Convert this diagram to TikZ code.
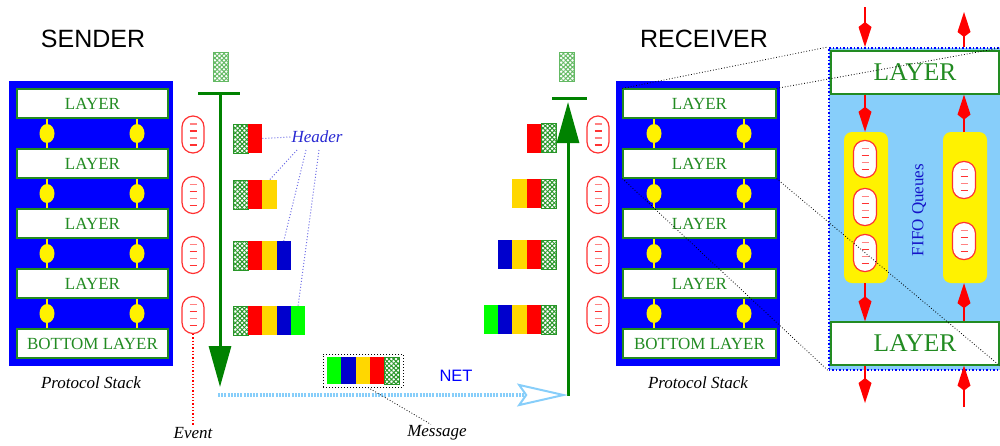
\documentclass[tikz,border=0pt]{standalone}
\usepackage{fontspec}
\setmainfont{Liberation Serif}
\newfontfamily\hv{Liberation Sans}
\usetikzlibrary{arrows.meta,patterns,patterns.meta,calc,shapes.geometric}
\definecolor{stackblue}{RGB}{0,0,255}
\definecolor{lgreen}{RGB}{34,139,34}
\definecolor{agreen}{RGB}{0,130,0}
\definecolor{hgreen}{RGB}{40,150,40}
\definecolor{hlgreen}{RGB}{100,185,100}
\definecolor{pred}{RGB}{255,0,0}
\definecolor{pyel}{RGB}{255,215,0}
\definecolor{pblue}{RGB}{0,0,205}
\definecolor{pgrn}{RGB}{0,255,0}
\definecolor{netblue}{RGB}{135,206,250}
\definecolor{hdrblue}{RGB}{40,40,210}
\definecolor{hdrline}{RGB}{110,110,230}
\definecolor{capred}{RGB}{255,50,50}
\definecolor{cappink}{RGB}{255,130,130}
\definecolor{fifoblue}{RGB}{20,20,200}
\tikzset{
  layerbox/.style={draw=lgreen, line width=1.2pt, fill=white, minimum height=29pt, inner sep=0pt,
    font=\fontsize{17}{17}\selectfont, text=lgreen},
  biglayer/.style={layerbox, minimum width=168pt, minimum height=43pt, font=\fontsize{25.5}{25.5}\selectfont},
  knob/.style={ellipse, fill=yellow, minimum width=15pt, minimum height=19pt, inner sep=0pt},
  knobline/.style={yellow, line width=1.5pt},
  capsule/.style={draw=capred, line width=1.2pt, fill=white, rounded corners=11pt, minimum height=37pt, inner sep=0pt},
  blk/.style={minimum width=14.3pt, minimum height=29pt, inner sep=0pt, outer sep=0pt},
  hatchbox/.style={blk, minimum width=15pt, draw=hgreen, line width=1pt,
    pattern={Lines[angle=45, distance=3.2pt, line width=1pt]}, pattern color=hgreen,
    postaction={pattern={Lines[angle=-45, distance=3.2pt, line width=1pt]}, pattern color=hgreen}},
  tophatch/.style={blk, minimum width=15pt, draw=hlgreen, line width=1pt,
    pattern={Lines[angle=45, distance=3.2pt, line width=1pt]}, pattern color=hlgreen,
    postaction={pattern={Lines[angle=-45, distance=3.2pt, line width=1pt]}, pattern color=hlgreen}},
  lbl/.style={font=\fontsize{17}{17}\selectfont\itshape, inner sep=1pt},
  title/.style={font=\hv\fontsize{25}{25}\selectfont},
  garrow/.style={agreen, line width=3pt, -{Triangle[length=41pt,width=22pt]}},
  gbar/.style={agreen, line width=3pt},
  netline/.style={netblue, line width=4.5pt, dash pattern=on 2pt off 1.2pt,
    -{Stealth[open, length=51pt, width=23pt, inset=8pt, line width=2pt]}},
  rarrow/.style={red, line width=2pt, -{Kite[length=25pt, width=13pt, inset=5pt]}},
  hline/.style={hdrline, dotted, line width=1pt},
  zoomline/.style={black, dotted, line width=0.8pt},
}
\newcommand\capsulenode[4]{%
  \node[capsule, minimum width=#4pt] (#1) at (#2,#3) {};
  \foreach \dy/\cc in {-10.5/cappink,-3.5/capred,3.5/cappink,10.5/capred}
    \draw[\cc, line width=1.6pt] ($(#1)+(-3.5,\dy)$) -- ($(#1)+(3.5,\dy)$);
}
\newcommand\protostack[6]{%
  \fill[stackblue] (#2,81) rectangle ++(164,285);
  \draw[knobline] (#5,103.5) -- (#5,343.5);
  \draw[knobline] (#6,103.5) -- (#6,343.5);
  \foreach \i/\t in {1/LAYER,2/LAYER,3/LAYER,4/LAYER,5/BOTTOM LAYER}
    \node[layerbox, minimum width=#4pt] (#1L\i) at (#3,{103.5+60*(\i-1)}) {\t};
  \foreach \i in {1,...,4} {
    \node[knob] (#1Ka\i) at (#5,{133.5+60*(\i-1)}) {};
    \node[knob] (#1Kb\i) at (#6,{133.5+60*(\i-1)}) {};
  }
  \node[lbl] (#1lab) at (#3-1.5,383) {Protocol Stack};
}
\begin{document}
\begin{tikzpicture}[x=1pt,y=-1pt]
\useasboundingbox (0,0) rectangle (1000,445);
\clip (0,0) rectangle (1000,445);

% titles
\node[title] (sendT) at (93,39) {SENDER};
\node[title] (recvT) at (704,39) {RECEIVER};

% stacks
\protostack{s}{9}{92.5}{151}{47}{137}
\protostack{r}{616}{699.5}{153}{654}{744}

% capsules
\capsulenode{sc1}{193}{134.5}{22}
\capsulenode{sc2}{193}{195}{22}
\capsulenode{sc3}{193}{255}{22}
\capsulenode{sc4}{193}{315}{22}
\capsulenode{rc1}{598}{134.5}{22}
\capsulenode{rc2}{598}{195}{22}
\capsulenode{rc3}{598}{255}{22}
\capsulenode{rc4}{598}{315}{22}

% sender packets
\foreach \r/\y/\cols in {A/138.5/{pred},B/194.5/{pred,pyel},C/255.5/{pred,pyel,pblue},D/320.5/{pred,pyel,pblue,pgrn}} {
  \node[hatchbox, anchor=east] (s\r1) at (248,\y) {};
  \foreach \c [count=\i from 2] in \cols
    \node[blk, fill=\c, anchor=west] (s\r\i) at ({248+(\i-2)*14.3},\y) {};
}
% receiver packets
\foreach \r/\y/\cols in {A/138/{pred},B/193.5/{pred,pyel},C/254.5/{pred,pyel,pblue},D/319.5/{pred,pyel,pblue,pgrn}} {
  \node[hatchbox, anchor=west] (r\r1) at (541,\y) {};
  \foreach \c [count=\i from 2] in \cols
    \node[blk, fill=\c, anchor=east] (r\r\i) at ({541-(\i-2)*14.3},\y) {};
}

% top packets
\node[tophatch] (sTopPkt) at (220.5,66.5) {};
\node[tophatch] (rTopPkt) at (567,66.5) {};

% header
\node[lbl, text=hdrblue] (hdr) at (317,137) {Header};
\draw[hline] (sA2.east) -- (hdr.west);
\draw[hline] ($(hdr.center)+(-20,13)$) -- (sB3.north);
\draw[hline] ($(hdr.center)+(-11,13)$) -- (sC4.north);
\draw[hline] ($(hdr.center)+(2,13)$) -- (sD5.north);

% sender arrow
\coordinate (sBarL) at (198,93);
\coordinate (sBarR) at (240,93);
\coordinate (sTop) at (220,93);
\coordinate (sTip) at (220,387);
\draw[gbar] (sBarL) -- (sBarR);
\draw[garrow] (sTop) -- (sTip);

% receiver arrow
\coordinate (rBarL) at (552,98);
\coordinate (rBarR) at (587,98);
\coordinate (rBot) at (568,395.5);
\coordinate (rTip) at (568,102);
\draw[gbar] (rBarL) -- (rBarR);
\draw[garrow] (rBot) -- (rTip);

% net
\coordinate (netS) at (218,395);
\coordinate (netE) at (568,395);
\draw[netline] (netS) -- (netE);
\node[font=\hv\fontsize{16.5}{16.5}\selectfont, text=blue] (net) at (456,376) {NET};

% message
\node[draw=black, dotted, line width=1pt, minimum width=80pt, minimum height=33pt, inner sep=0pt] (msgbox) at (363,370.5) {};
\foreach \c [count=\i] in {pgrn,pblue,pyel,pred}
  \node[blk, fill=\c, minimum height=27pt, anchor=west] (m\i) at ({327+(\i-1)*14.3},370.5) {};
\node[hatchbox, minimum height=27pt, anchor=west] (m5) at (384.2,370.5) {};
\node[lbl] (msgl) at (437,433) {Message};
\draw[zoomline] ($(msgbox.south)+(5,0)$) -- ($(msgl.north)+(-6,0)$);

% event
\node[lbl] (evt) at (193,433) {Event};
\draw[red, dotted, line width=1.3pt] (sc4.south) -- (evt.north);

% zoom panel
\node[draw=blue, dotted, line width=1.5pt, fill=netblue, minimum width=176pt, minimum height=322pt, inner sep=0pt, anchor=north west] (panel) at (828,47) {};
\node[biglayer] (pTop) at (915,72.5) {LAYER};
\node[biglayer] (pBot) at (915,343.5) {LAYER};
\node[fill=yellow, rounded corners=8pt, minimum width=44pt, minimum height=151pt, inner sep=0pt] (qL) at (866,207.5) {};
\node[fill=yellow, rounded corners=8pt, minimum width=44pt, minimum height=151pt, inner sep=0pt] (qR) at (965,207.5) {};
\capsulenode{qc1}{865}{159}{23}
\capsulenode{qc2}{865}{207}{23}
\capsulenode{qc3}{865}{253}{23}
\capsulenode{qc4}{964}{180}{23}
\capsulenode{qc5}{964}{241}{23}
\node[rotate=90, font=\fontsize{17}{17}\selectfont, text=fifoblue] (fifo) at (919,210) {FIFO Queues};

\coordinate (a1) at (865,7);
\coordinate (a4) at (865,403);
\coordinate (b1) at (964,12);
\coordinate (b4) at (964,407);
\draw[rarrow] (a1) -- (panel.north -| qc1);
\draw[rarrow] (pTop.south -| qc1) -- (qL.north -| qc1);
\draw[rarrow] (qL.south -| qc1) -- (pBot.north -| qc1);
\draw[rarrow] (pBot.south -| qc1) -- (a4);
\draw[rarrow] (panel.north -| qc4) -- (b1);
\draw[rarrow] (qR.north -| qc4) -- (pTop.south -| qc4);
\draw[rarrow] (pBot.north -| qc4) -- (qR.south -| qc4);
\draw[rarrow] (b4) -- (pBot.south -| qc4);

% zoom lines
\draw[zoomline] (rL1.north west) -- (panel.north west);
\draw[zoomline] (rL1.north east) -- (panel.north east);
\draw[zoomline] (rL2.south west) -- (panel.south west);
\draw[zoomline] (rL2.south east) -- (panel.south east);
\end{tikzpicture}
\end{document}
